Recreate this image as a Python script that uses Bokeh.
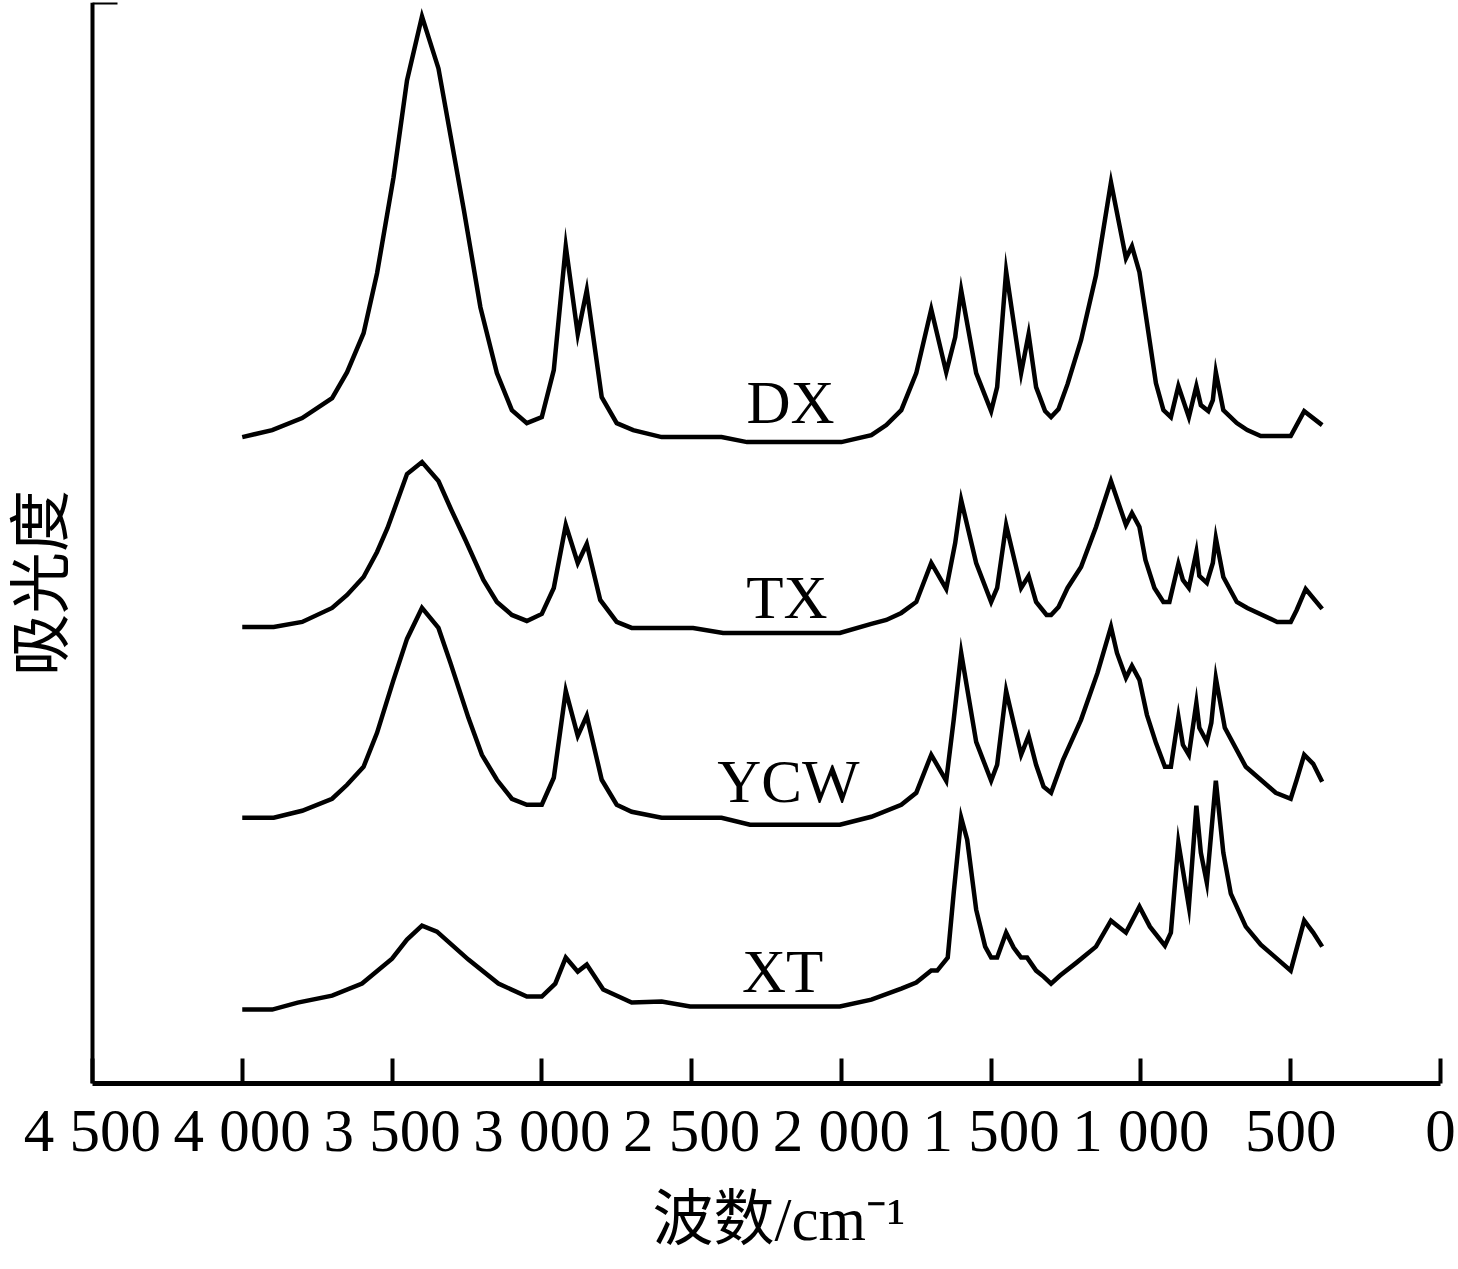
import math
from bokeh.plotting import figure
from bokeh.models import Range1d, FixedTicker, Label, LinearAxis, Title
from bokeh.embed import file_html
from bokeh.resources import INLINE

# ---------------- data ----------------
tick_values = [4500, 4000, 3500, 3000, 2500, 2000, 1500, 1000, 500, 0]
tick_labels = ["4 500", "4 000", "3 500", "3 000", "2 500", "2 000",
               "1 500", "1 000", "500", "0"]

series_names = ["DX", "TX", "YCW", "XT"]

dx_wn = [4000, 3900, 3800, 3700, 3650, 3595, 3550, 3495, 3450, 3400,
         3345, 3300, 3260, 3205, 3150, 3100, 3050, 3000, 2960, 2920,
         2880, 2850, 2800, 2750, 2695, 2600, 2400, 2315, 2000, 1900,
         1850, 1800, 1750, 1700, 1650, 1620, 1600, 1550, 1500, 1480,
         1450, 1400, 1375, 1350, 1320, 1300, 1275, 1245, 1200, 1150,
         1100, 1050, 1030, 1005, 950, 925, 900, 875, 840, 815,
         800, 775, 760, 750, 725, 680, 645, 600, 500, 455, 395]
dx_abs = [646, 653, 665, 685, 711, 750, 810, 906, 1003, 1067,
          1015, 940, 873, 776, 710, 673, 660, 666, 713, 837,
          749, 793, 686, 660, 653, 646, 646, 641, 641, 648,
          658, 673, 710, 774, 711, 746, 793, 710, 672, 696,
          812, 710, 749, 696, 672, 666, 674, 699, 743, 808,
          901, 825, 837, 811, 700, 673, 666, 697, 666, 697,
          678, 672, 683, 711, 673, 660, 653, 647, 647, 672, 658]

tx_wn = [4000, 3895, 3800, 3700, 3650, 3595, 3550, 3515, 3450, 3400,
         3345, 3305, 3255, 3195, 3150, 3100, 3050, 3000, 2960, 2920,
         2880, 2850, 2805, 2750, 2700, 2495, 2395, 2005, 1900, 1850,
         1800, 1750, 1700, 1650, 1620, 1600, 1550, 1500, 1480, 1450,
         1400, 1375, 1350, 1315, 1300, 1275, 1245, 1200, 1150, 1100,
         1050, 1030, 1005, 985, 955, 925, 905, 875, 860, 840,
         815, 805, 780, 760, 750, 725, 680, 645, 545, 500,
         480, 450, 395]
tx_abs = [456, 456, 461, 475, 488, 506, 531, 555, 609, 621,
          602, 575, 543, 503, 481, 468, 462, 469, 495, 558,
          520, 539, 483, 461, 455, 455, 450, 450, 459, 463,
          470, 481, 520, 494, 540, 583, 520, 481, 495, 558,
          495, 507, 481, 468, 468, 476, 495, 516, 556, 602,
          558, 570, 556, 523, 495, 481, 481, 519, 503, 495,
          531, 507, 500, 520, 545, 506, 481, 475, 461, 461,
          473, 494, 474]

ycw_wn = [4000, 3895, 3800, 3700, 3650, 3595, 3550, 3495, 3450, 3400,
          3345, 3305, 3245, 3200, 3150, 3100, 3050, 3000, 2960, 2920,
          2880, 2850, 2800, 2750, 2700, 2600, 2400, 2305, 2005, 1900,
          1800, 1750, 1700, 1650, 1625, 1600, 1550, 1500, 1480, 1450,
          1400, 1375, 1350, 1325, 1300, 1260, 1200, 1145, 1100, 1080,
          1050, 1030, 1005, 980, 950, 920, 900, 875, 860, 840,
          815, 805, 780, 765, 750, 720, 650, 550, 500, 480,
          455, 425, 395]
ycw_abs = [265, 265, 272, 284, 298, 316, 350, 403, 444, 475,
           455, 420, 365, 328, 303, 284, 278, 278, 305, 392,
           347, 367, 303, 278, 271, 265, 265, 258, 258, 266,
           278, 290, 328, 302, 363, 430, 341, 302, 318, 392,
           328, 347, 318, 296, 290, 323, 363, 410, 456, 430,
           405, 417, 403, 368, 340, 316, 316, 366, 338, 328,
           380, 355, 341, 360, 405, 355, 316, 290, 284, 303,
           328, 319, 301]

xt_wn = [4000, 3900, 3815, 3700, 3600, 3500, 3450, 3400, 3350, 3245,
         3145, 3050, 3000, 2955, 2920, 2880, 2850, 2795, 2700, 2600,
         2505, 2005, 1900, 1800, 1750, 1700, 1680, 1645, 1625, 1600,
         1580, 1550, 1520, 1500, 1480, 1450, 1425, 1400, 1380, 1350,
         1325, 1300, 1270, 1215, 1150, 1100, 1050, 1005, 970, 920,
         900, 875, 840, 815, 800, 780, 750, 725, 700, 650,
         600, 550, 500, 455, 425, 395]
xt_abs = [73, 73, 80, 87, 99, 124, 143, 157, 151, 123,
          99, 86, 86, 99, 125, 111, 118, 93, 80, 81,
          76, 76, 83, 94, 100, 112, 112, 125, 190, 265,
          243, 173, 136, 125, 125, 150, 135, 125, 125, 112,
          106, 99, 107, 120, 136, 162, 150, 176, 156, 137,
          150, 240, 176, 277, 230, 200, 302, 230, 189, 156,
          138, 125, 112, 162, 150, 136]

# ---------------- figure ----------------
SERIF = "Liberation Serif"
CJK = "Liberation Serif, Noto Sans CJK SC"
X_LEFT = 4500
Y_TOP = 1081

p = figure(width=1458, height=1269, output_backend="svg", toolbar_location=None,
           x_range=Range1d(4807, 0), y_range=Range1d(-1, Y_TOP),
           y_axis_location=None,
           min_border_left=0, min_border_right=18, min_border_top=2,
           min_border_bottom=185)
p.xgrid.visible = False
p.ygrid.visible = False
p.outline_line_color = None
p.background_fill_color = "white"
p.border_fill_color = "white"

xa = p.xaxis[0]
xa.bounds = (0, X_LEFT)
xa.ticker = FixedTicker(ticks=tick_values)
xa.major_label_overrides = dict(zip(tick_values, tick_labels))
xa.minor_tick_line_color = None
xa.major_tick_in = 25
xa.major_tick_out = 0
xa.major_tick_line_width = 4
xa.major_tick_line_color = "black"
xa.axis_line_width = 5
xa.axis_line_color = "black"
xa.major_label_text_font = SERIF
xa.major_label_text_font_size = "61px"
xa.major_label_text_color = "black"
xa.major_label_standoff = 13

# x-axis title, placed under the plotted axis span (not the whole frame)
p.add_layout(Title(text="波数/cm⁻¹", align="left", offset=652,
                   text_font=CJK, text_font_size="61px", text_font_style="normal",
                   text_color="black", standoff=34), "below")

ya = LinearAxis(fixed_location=X_LEFT, ticker=FixedTicker(ticks=[Y_TOP]),
                major_label_overrides={Y_TOP: ""},
                minor_tick_line_color=None, major_tick_in=25, major_tick_out=0,
                major_tick_line_width=4, major_tick_line_color="black",
                axis_line_width=4, axis_line_color="black")
p.add_layout(ya, "left")

curves = [(dx_wn, dx_abs), (tx_wn, tx_abs), (ycw_wn, ycw_abs), (xt_wn, xt_abs)]
for wn, ab in curves:
    p.line(wn, ab, line_color="black", line_width=4.5, line_join="miter")

label_pos = {"DX": (2170, 681), "TX": (2182, 485), "YCW": (2177, 301), "XT": (2196, 111)}
for name in series_names:
    lx, ly = label_pos[name]
    p.add_layout(Label(x=lx, y=ly, text=name, text_font=SERIF, text_font_size="61px",
                       text_color="black", text_align="center", text_baseline="alphabetic"))

p.add_layout(Label(x=4690, y=500, text="吸光度", angle=math.pi / 2,
                   text_font="Noto Sans CJK SC", text_font_size="62px", text_color="black",
                   text_align="center", text_baseline="middle"))

open("out.html", "w").write(file_html(p, INLINE))
